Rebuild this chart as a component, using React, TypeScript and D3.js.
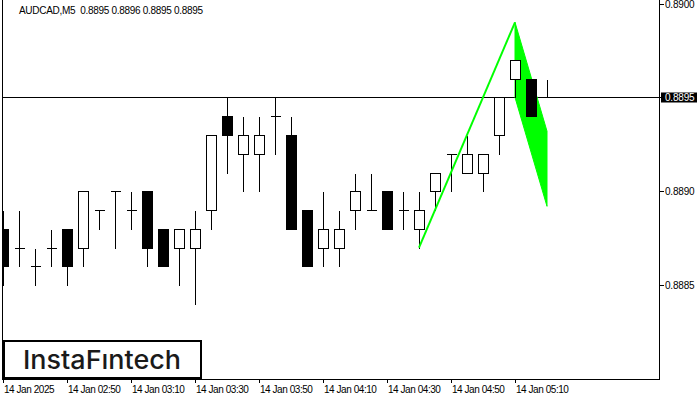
import React, { useEffect } from 'react';
import * as d3 from 'd3';

// AUDCAD M5 candles, 14 Jan 2025 from 02:30
const opens = [
  0.8888, 0.8887, 0.8886, 0.8887, 0.8888, 0.8887, 0.8889, 0.8890, 0.8889, 0.8890,
  0.8888, 0.8887, 0.8887, 0.8889, 0.8894, 0.8892, 0.8892, 0.8894, 0.8893, 0.8889,
  0.8887, 0.8887, 0.8889, 0.8889, 0.8890, 0.8889, 0.8888, 0.8890, 0.8892, 0.8891,
  0.8891, 0.8893, 0.8896, 0.8896, 0.8895,
];
const highs = [
  0.8889, 0.8889, 0.8887, 0.8888, 0.8888, 0.8890, 0.8889, 0.8890, 0.8890, 0.8890,
  0.8888, 0.8888, 0.8889, 0.8893, 0.8895, 0.8894, 0.8894, 0.8895, 0.8894, 0.8889,
  0.8890, 0.8889, 0.8891, 0.8891, 0.8890, 0.8890, 0.8890, 0.8891, 0.8892, 0.8893,
  0.8892, 0.8895, 0.8897, 0.8896, 0.8896,
];
const lows = [
  0.8885, 0.8886, 0.8885, 0.8886, 0.8885, 0.8886, 0.8888, 0.8887, 0.8888, 0.8886,
  0.8886, 0.8885, 0.8884, 0.8888, 0.8891, 0.8890, 0.8890, 0.8892, 0.8888, 0.8886,
  0.8886, 0.8886, 0.8888, 0.8889, 0.8888, 0.8888, 0.8887, 0.8889, 0.8890, 0.8891,
  0.8890, 0.8892, 0.8895, 0.8894, 0.8895,
];
const closes = [
  0.8886, 0.8887, 0.8886, 0.8887, 0.8886, 0.8890, 0.8889, 0.8890, 0.8889, 0.8887,
  0.8886, 0.8888, 0.8888, 0.8893, 0.8893, 0.8893, 0.8893, 0.8894, 0.8888, 0.8886,
  0.8888, 0.8888, 0.8890, 0.8889, 0.8888, 0.8889, 0.8889, 0.8891, 0.8892, 0.8892,
  0.8892, 0.8895, 0.8897, 0.8894, 0.8895,
];

const priceTicks = [0.8885, 0.8890, 0.8895, 0.8900];
const timeLabels = [
  '14 Jan 2025', '14 Jan 02:50', '14 Jan 03:10', '14 Jan 03:30', '14 Jan 03:50',
  '14 Jan 04:10', '14 Jan 04:30', '14 Jan 04:50', '14 Jan 05:10',
];
const bidPrice = 0.8895;

// bull flag: pole from bar 26 to apex at bar 32, flag ends at bar 34
const poleBars = [26, 32];
const polePrices = [0.8887, 0.8899];
const flagBars = [32, 34, 34, 32];
const flagPrices = [0.8899, 0.88932, 0.88892, 0.8895];

const W = 700;
const H = 400;
const plotLeft = 3;
const plotRight = 660;
const plotBottom = 379;
const font = '"Liberation Sans", "DejaVu Sans", sans-serif';

export default function App() {
  useEffect(() => {
    document.body.style.margin = '0';
  }, []);

  const x = d3.scaleLinear().domain([0, 34]).range([3, 547]);
  const y = d3.scaleLinear().domain([0.8884, 0.89]).range([304, 3.5]);
  const py = (p: number) => Math.round(y(p)) + 0.5;
  const px = (i: number) => Math.round(x(i)) + 0.5;

  const poleLine = d3.line<number>()
    .x((d) => x(poleBars[d]))
    .y((d) => y(polePrices[d]))([0, 1]);
  const flagPath = d3.line<number>()
    .x((d) => x(flagBars[d]))
    .y((d) => y(flagPrices[d]))([0, 1, 2, 3]) + 'Z';

  return (
    <svg width={W} height={H} style={{ display: 'block', background: '#fff' }}>
      <defs>
        <clipPath id="plot">
          <rect x={plotLeft} y={0} width={plotRight - plotLeft} height={plotBottom} />
        </clipPath>
      </defs>

      <text x={19} y={14} fontFamily={font} fontSize={10} fill="#000" textLength={184}
        lengthAdjust="spacing" style={{ whiteSpace: 'pre' }}>
        {'AUDCAD,M5  0.8895 0.8896 0.8895 0.8895'}
      </text>

      <g clipPath="url(#plot)">
        <line x1={plotLeft} x2={plotRight} y1={py(bidPrice)} y2={py(bidPrice)}
          stroke="#000" strokeWidth={1} shapeRendering="crispEdges" />
        <path d={flagPath} fill="#00ff00" stroke="#00ff00" strokeWidth={1} />

        <g shapeRendering="crispEdges">
          {opens.map((o, i) => {
            const c = closes[i];
            const cx = px(i);
            const top = py(Math.max(o, c));
            const bot = py(Math.min(o, c));
            const bull = c >= o;
            return (
              <g key={i}>
                <line x1={cx} x2={cx} y1={py(highs[i])} y2={py(lows[i])} stroke="#000" />
                {o === c ? (
                  <line x1={cx - 5} x2={cx + 5} y1={top} y2={top} stroke="#000" />
                ) : (
                  <rect x={cx - 5} y={top} width={10} height={bot - top}
                    fill={bull ? '#fff' : '#000'} stroke="#000" />
                )}
              </g>
            );
          })}
        </g>

        <path d={poleLine ?? ''} fill="none" stroke="#00ff00" strokeWidth={2} />
      </g>

      {/* frame */}
      <path d={`M${plotLeft - 0.5},0V${plotBottom + 0.5}H${plotRight - 0.5}V0`}
        fill="none" stroke="#000" strokeWidth={1} shapeRendering="crispEdges" />

      {/* price axis */}
      {priceTicks.map((p) => (
        <g key={p}>
          <line x1={plotRight} x2={plotRight + 4} y1={py(p)} y2={py(p)} stroke="#000" shapeRendering="crispEdges" />
          <text x={665} y={py(p) + 3.5} fontFamily={font} fontSize={10} letterSpacing={-0.2} fill="#000">
            {d3.format('.4f')(p)}
          </text>
        </g>
      ))}
      <rect x={661} y={py(bidPrice) - 5} width={36} height={10} fill="#000" />
      <text x={665} y={py(bidPrice) + 3.5} fontFamily={font} fontSize={10} letterSpacing={-0.2} fill="#fff">
        {d3.format('.4f')(bidPrice)}
      </text>

      {/* time axis */}
      {timeLabels.map((t, j) => (
        <g key={t}>
          <line x1={px(j * 4)} x2={px(j * 4)} y1={plotBottom} y2={plotBottom + 4}
            stroke="#000" shapeRendering="crispEdges" />
          <text x={px(j * 4) + 0.5} y={393} fontFamily={font} fontSize={10} letterSpacing={-0.45} fill="#000">
            {t}
          </text>
        </g>
      ))}

      {/* logo */}
      <rect x={4} y={341} width={197} height={37} fill="#fff" stroke="#000" strokeWidth={2} />
      <text x={23} y={369} fontFamily="Inter, 'Open Sans', sans-serif" fontWeight={500}
        fontSize={26} fill="#1a1a1a" textLength={158} lengthAdjust="spacingAndGlyphs">
        InstaFıntech
      </text>
    </svg>
  );
}
